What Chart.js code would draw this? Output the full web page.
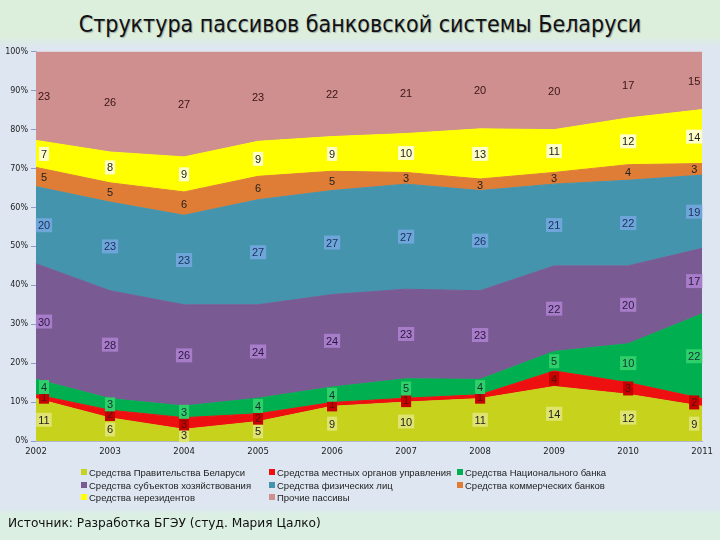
<!DOCTYPE html>
<html>
<head>
<meta charset="utf-8">
<script src="https://cdn.jsdelivr.net/npm/chart.js@4"></script>
<style>
    html, body { margin: 0; padding: 0; }
    body {
        width: 720px; height: 540px; position: relative; overflow: hidden;
        background: linear-gradient(to bottom, #dcefdc 0px, #dcefdc 36px, #dde6f1 48px, #dde6f1 508px, #dcefe3 514px);
        font-family: 'Liberation Sans', Arial, sans-serif;
    }
    #title {
        position: absolute; left: 0; top: 11px; width: 720px; text-align: center;
        font-family: 'Liberation Sans Narrow', 'DejaVu Sans Condensed', sans-serif;
        font-size: 23px; color: #111; text-shadow: 1px 1px 1px #9aa;
    }
    #chartBox { position: absolute; left: 0; top: 44px; width: 715px; height: 420px; }
    #legend { position: absolute; left: 0; top: 463px; width: 720px; height: 48px; }
    .item {
        position: absolute; font-size: 9.5px; color: #222; white-space: nowrap;
        line-height: 12px;
    }
    .item span {
        display: inline-block; width: 6px; height: 6px; margin-right: 2px; vertical-align: 1px;
    }
    #source {
        position: absolute; left: 8px; top: 516px;
        font-family: 'DejaVu Sans', sans-serif; font-size: 12.2px; color: #111;
    }
</style>
</head>
<body>
<div id="title">Структура пассивов банковской системы Беларуси</div>
<div id="chartBox"><canvas id="structChart" width="715" height="420"></canvas></div>
<div id="legend"></div>
<div id="source">Источник: Разработка БГЭУ (студ. Мария Цалко)</div>

<script>
// years and shares (%)
const years = ['2002', '2003', '2004', '2005', '2006', '2007', '2008', '2009', '2010', '2011'];
const govFunds = [11, 6, 3, 5, 9, 10, 11, 14, 12, 9];
const localFunds = [1, 2, 3, 2, 1, 1, 1, 4, 3, 2];
const nbFunds = [4, 3, 3, 4, 4, 5, 4, 5, 10, 22];
const enterpriseFunds = [30, 28, 26, 24, 24, 23, 23, 22, 20, 17];
const personalFunds = [20, 23, 23, 27, 27, 27, 26, 21, 22, 19];
const bankFunds = [5, 5, 6, 6, 5, 3, 3, 3, 4, 3];
const nonresFunds = [7, 8, 9, 9, 9, 10, 13, 11, 12, 14];
const otherFunds = [23, 26, 27, 23, 22, 21, 20, 20, 17, 15];

const seriesNames = [
    'Средства Правительства Беларуси',
    'Средства местных органов управления',
    'Средства Национального банка',
    'Средства субъектов хозяйствования',
    'Средства физических лиц',
    'Средства коммерческих банков',
    'Средства нерезидентов',
    'Прочие пассивы'
];
const seriesValues = [govFunds, localFunds, nbFunds, enterpriseFunds, personalFunds, bankFunds, nonresFunds, otherFunds];
const fillColors = ['#c6d21c', '#ee1010', '#00b050', '#795a93', '#4394ac', '#df7d37', '#ffff00', '#cf8f8f'];
const labelBoxes = ['#dfe470', '#c80000', '#2fcf6a', '#a77cc8', '#6ea6da', null, '#ffffc8', null];
const labelInk = ['#222', '#511', '#133', '#2a1840', '#1c3160', '#222', '#222', '#3a1414'];

// legend position: [column, row]
const legendSlots = [[0, 0], [1, 0], [2, 0], [0, 1], [1, 1], [2, 1], [0, 2], [1, 2]];
const legendCols = [81, 269, 457];

// 100% stacked: normalise each year
const totals = years.map((y, j) => seriesValues.reduce((s, arr) => s + arr[j], 0));
const shares = seriesValues.map(arr => arr.map((v, j) => v / totals[j] * 100));

function buildLegend() {
    const box = document.getElementById('legend');
    box.innerHTML = seriesNames.map((name, i) => {
        const [c, r] = legendSlots[i];
        return `<div class="item" style="left:${legendCols[c]}px;top:${4 + r * 12.5}px">` +
            `<span style="background:${fillColors[i]}"></span>${name}</div>`;
    }).join('');
}

const bandLabels = {
    id: 'bandLabels',
    afterDatasetsDraw(chart) {
        const ctx = chart.ctx;
        const area = chart.chartArea;
        const yScale = chart.scales.y;
        ctx.save();
        ctx.font = '11px "Liberation Sans", Arial, sans-serif';
        ctx.textAlign = 'center';
        ctx.textBaseline = 'middle';
        seriesValues.forEach((arr, i) => {
            const meta = chart.getDatasetMeta(i);
            const below = i > 0 ? chart.getDatasetMeta(i - 1) : null;
            meta.data.forEach((pt, j) => {
                const bottom = below ? below.data[j].y : yScale.bottom;
                const yMid = (pt.y + bottom) / 2;
                let x = pt.x;
                if (x < area.left + 8) x = area.left + 8;
                if (x > area.right - 8) x = area.right - 8;
                const text = String(arr[j]);
                const w = ctx.measureText(text).width + 4;
                if (labelBoxes[i]) {
                    ctx.fillStyle = labelBoxes[i];
                    ctx.fillRect(x - w / 2, yMid - 7, w, 14);
                }
                ctx.fillStyle = labelInk[i];
                ctx.fillText(text, x, yMid + 1);
            });
        });
        ctx.restore();
    }
};

function renderChart() {
    const ctx = document.getElementById('structChart');
    new Chart(ctx, {
        type: 'line',
        data: {
            labels: years,
            datasets: shares.map((data, i) => ({
                label: seriesNames[i],
                data: data,
                backgroundColor: fillColors[i],
                borderColor: fillColors[i],
                borderWidth: 1,
                pointRadius: 0,
                tension: 0,
                fill: i === 0 ? 'origin' : '-1'
            }))
        },
        options: {
            responsive: false,
            animation: false,
            layout: { padding: { top: 6, right: 10, left: 0, bottom: 0 } },
            plugins: {
                legend: { display: false },
                tooltip: { enabled: false }
            },
            scales: {
                x: {
                    offset: false,
                    grid: { display: false, drawTicks: true, tickLength: 4, color: '#9aa6c4' },
                    border: { color: '#b0b8cc' },
                    ticks: { color: '#222', font: { size: 8.5, family: 'DejaVu Sans' }, padding: 2, maxRotation: 0 },
                    afterFit: (scale) => { scale.height = 23; }
                },
                y: {
                    stacked: true,
                    min: 0,
                    max: 100,
                    grid: { drawOnChartArea: false, tickLength: 5, color: '#8e9ccc' },
                    border: { color: '#b0b8cc' },
                    ticks: {
                        stepSize: 10,
                        color: '#222',
                        padding: 3,
                        font: { size: 8, family: 'DejaVu Sans' },
                        callback: (v) => v + '%'
                    },
                    afterFit: (scale) => { scale.width = 36; }
                }
            }
        },
        plugins: [bandLabels]
    });
}

window.addEventListener('DOMContentLoaded', () => {
    buildLegend();
    renderChart();
});
</script>
</body>
</html>
